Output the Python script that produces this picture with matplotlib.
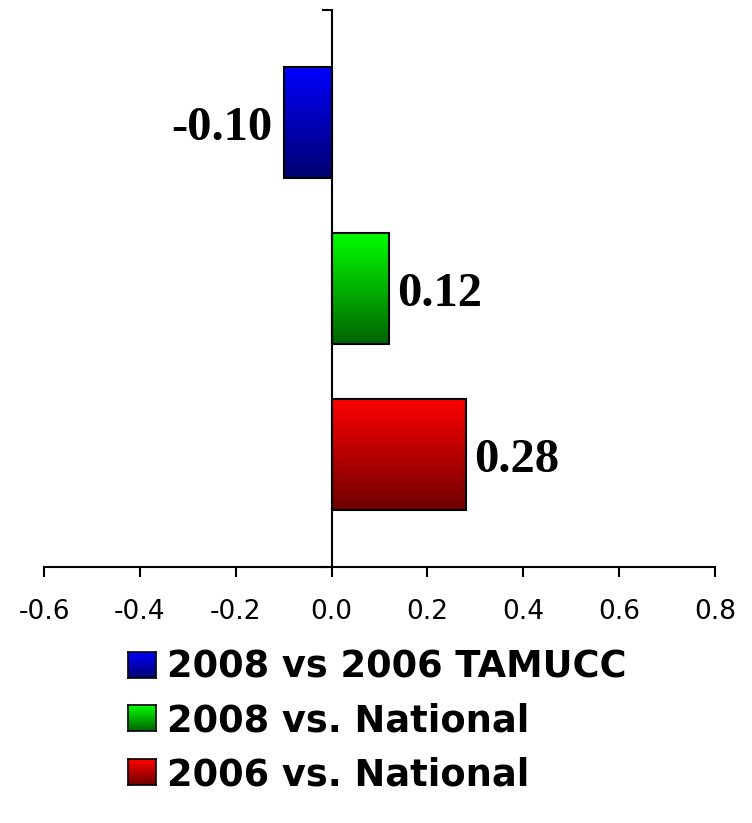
import numpy as np
import matplotlib
matplotlib.use("Agg")
import matplotlib.pyplot as plt
from matplotlib.colors import LinearSegmentedColormap

# series, bottom to top on the chart
labels = ["2006 vs. National", "2008 vs. National", "2008 vs 2006 TAMUCC"]
values = [0.28, 0.12, -0.10]
top_colors = ["#ff0000", "#00ff00", "#0000ff"]
bottom_colors = ["#6e0000", "#006400", "#000070"]
value_text = ["0.28", "0.12", "-0.10"]
xticks = [-0.6, -0.4, -0.2, 0.0, 0.2, 0.4, 0.6, 0.8]

fig = plt.figure(figsize=(7.52, 8.23), dpi=100)
ax = fig.add_axes([44 / 752, 1 - 567 / 823, (715 - 44) / 752, (567 - 10) / 823])

ylo, yhi = -0.68, 2.68
bar_h = 0.67
grad = np.linspace(0, 1, 256).reshape(-1, 1)

for i, (v, ct, cb) in enumerate(zip(values, top_colors, bottom_colors)):
    cmap = LinearSegmentedColormap.from_list("g%d" % i, [cb, ct])
    ax.imshow(grad, cmap=cmap, origin="lower", aspect="auto",
              extent=(min(0, v), max(0, v), i - bar_h / 2, i + bar_h / 2), zorder=1)
    ax.barh(i, v, height=bar_h, facecolor="none", edgecolor="black", linewidth=1.5, zorder=2)
    ha = "left" if v >= 0 else "right"
    off = 6 if v >= 0 else -8
    ax.annotate(value_text[i], (v, i), xytext=(off, -4), textcoords="offset points",
                ha=ha, va="center", fontsize=35, fontweight="bold",
                family="Liberation Serif")

ax.set_xlim(-0.6, 0.8)
ax.set_ylim(ylo, yhi)
ax.set_xticks(xticks)
ax.set_xticklabels(["%.1f" % t for t in xticks])
ax.set_yticks([ylo, yhi])
ax.set_yticklabels([])
ax.spines["left"].set_position(("data", 0))
ax.spines["top"].set_visible(False)
ax.spines["right"].set_visible(False)
for s in ("left", "bottom"):
    ax.spines[s].set_linewidth(1.5)
ax.tick_params(axis="both", direction="out", length=7, width=1.5)
ax.tick_params(axis="x", pad=16)
for t in ax.get_xticklabels():
    t.set_fontsize(19)
    t.set_family("DejaVu Sans")

# legend, drawn by hand so the swatches keep the gradient
rows_y = [772, 718, 665]
for i in range(3):
    yc = rows_y[i]
    sw = fig.add_axes([128 / 752, 1 - (yc + 13) / 823, 28 / 752, 26 / 823])
    cmap = LinearSegmentedColormap.from_list("l%d" % i, [bottom_colors[i], top_colors[i]])
    sw.imshow(grad, cmap=cmap, origin="lower", aspect="auto")
    sw.set_xticks([])
    sw.set_yticks([])
    for s in sw.spines.values():
        s.set_linewidth(1.2)
    fig.text(167 / 752, 1 - (yc + 13) / 823, labels[i], ha="left", va="baseline",
             fontsize=26.5, fontweight="bold", family="DejaVu Sans")

fig.savefig("out.png", dpi=100)
